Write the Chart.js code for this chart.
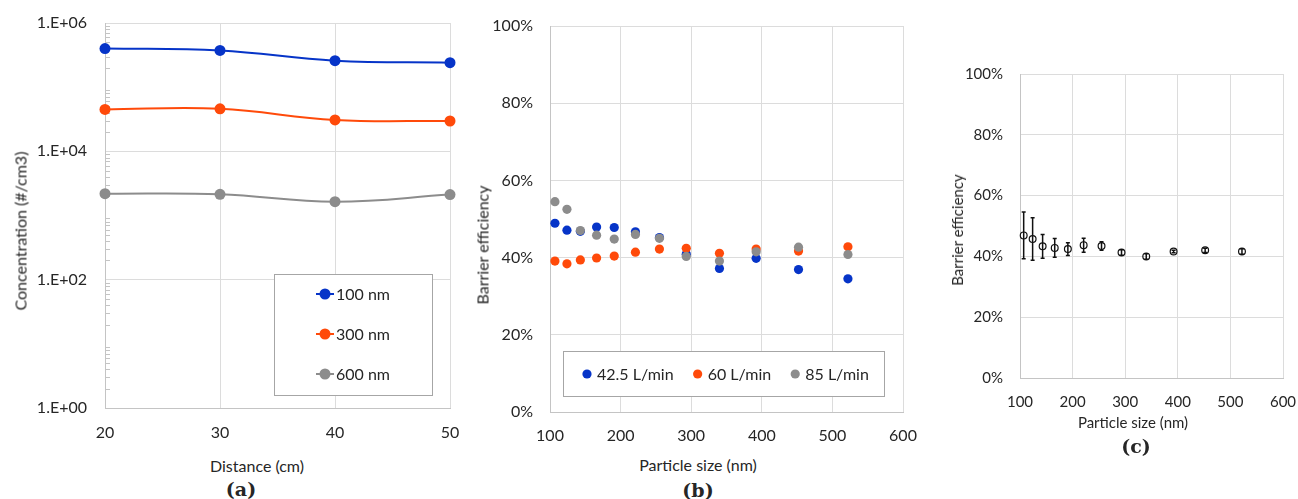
<!DOCTYPE html>
<html>
<head>
<meta charset="utf-8">
<script src="https://cdn.jsdelivr.net/npm/chart.js@4.4.1/dist/chart.umd.min.js"></script>
<style>
    body { margin: 0; background: #fff; width: 1298px; height: 499px; position: relative; overflow: hidden; font-family: Lato, sans-serif; color: #262626; }
    .panel { position: absolute; }
    .lbl { position: absolute; font-size: 16px; white-space: nowrap; transform: translate(-50%, -50%); }
    .lbl.rot { transform: translate(-50%, -50%) rotate(-90deg); }
    .lbl.sm { font-size: 15px; }
    .cap { position: absolute; font: bold 19px "DejaVu Serif", serif; transform: translate(-50%, -50%); }
</style>
</head>
<body>
<div class="panel" style="left:0;top:0;width:470px;height:440px"><canvas id="chartA"></canvas></div>
<div class="panel" style="left:470px;top:0;width:450px;height:450px"><canvas id="chartB"></canvas></div>
<div class="panel" style="left:930px;top:40px;width:368px;height:380px"><canvas id="chartC"></canvas></div>

<div class="lbl rot" style="left:20px;top:231px">Concentration (#/cm3)</div>
<div class="lbl" style="left:257px;top:465px">Distance (cm)</div>
<div class="cap" style="left:241px;top:489px">(a)</div>

<div class="lbl rot" style="left:482px;top:245px">Barrier efficiency</div>
<div class="lbl" style="left:698px;top:464px">Particle size (nm)</div>
<div class="cap" style="left:698px;top:490px">(b)</div>

<div class="lbl rot sm" style="left:957px;top:230px">Barrier efficiency</div>
<div class="lbl sm" style="left:1133px;top:422px">Particle size (nm)</div>
<div class="cap" style="left:1136px;top:446px">(c)</div>

<script>
// (a) concentration vs distance
const distanceCm = [20, 30, 40, 50];
const conc100 = [4.0e5, 3.74e5, 2.59e5, 2.41e5];
const conc300 = [4.5e4, 4.6e4, 3.08e4, 2.97e4];
const conc600 = [2190, 2140, 1640, 2120];
const concTicks = [1, 1e2, 1e4, 1e6];

// (b) barrier efficiency per flow rate (%)
const particleSize = [107, 124, 143, 166, 191, 221, 255, 293, 340, 392, 452, 522];
const eff42 = [48.9, 47.1, 46.8, 47.9, 47.8, 46.7, 45.2, 40.9, 37.2, 39.8, 36.9, 34.5];
const eff60 = [39.1, 38.4, 39.4, 39.9, 40.4, 41.4, 42.2, 42.4, 41.1, 42.2, 41.7, 42.8];
const eff85 = [54.5, 52.5, 47.0, 45.8, 44.8, 46.0, 45.0, 40.3, 39.1, 41.5, 42.7, 40.8];

// (c) mean efficiency with error bars (%)
const effMean = [46.9, 45.7, 43.3, 42.8, 42.4, 43.7, 43.4, 41.3, 40.0, 41.6, 42.0, 41.6];
const effErr = [7.7, 7.0, 3.9, 3.1, 2.1, 2.3, 1.4, 0.9, 0.9, 0.4, 0.7, 0.9];

const blue = '#0634c8', orange = '#ff4a0a', grey = '#8c8c8c';
const gridColor = '#dcdcdc', axisColor = '#c4c4c4', textColor = '#262626';

Chart.defaults.font.family = 'Lato';
Chart.defaults.font.size = 16;
Chart.defaults.color = textColor;
Chart.defaults.animation = false;

// fixed axis sizes, and no extra room for overhanging labels (layout padding handles that)
const fixSize = (w, h) => scale => {
    if (w) scale.width = w;
    if (h) scale.height = h;
    scale.paddingLeft = scale.paddingRight = scale.paddingTop = scale.paddingBottom = 0;
};
const pts = (xs, ys) => xs.map((x, i) => ({ x: x, y: ys[i] }));

// legend drawn inside the plot, white box with grey border
const boxLegend = {
    id: 'boxLegend',
    afterDatasetsDraw(chart, args, o) {
        if (!o || o.w === undefined) return;
        const { ctx, chartArea } = chart;
        const x0 = Math.round(chartArea.left + o.x), y0 = Math.round(chartArea.top + o.y);
        ctx.save();
        ctx.fillStyle = '#fff';
        ctx.fillRect(x0, y0, o.w, o.h);
        ctx.strokeStyle = '#a6a6a6';
        ctx.lineWidth = 1;
        ctx.strokeRect(x0 + 0.5, y0 + 0.5, o.w, o.h);
        ctx.font = o.font;
        ctx.textAlign = 'left';
        ctx.textBaseline = 'middle';
        let cx = x0 + o.first, cy = y0 + o.top;
        chart.data.datasets.forEach(ds => {
            const c = ds.borderColor;
            if (o.line) {
                ctx.strokeStyle = c; ctx.lineWidth = 2;
                ctx.beginPath(); ctx.moveTo(cx - 9, cy); ctx.lineTo(cx + 9, cy); ctx.stroke();
            }
            ctx.fillStyle = c;
            ctx.beginPath(); ctx.arc(cx, cy, o.dot, 0, Math.PI * 2); ctx.fill();
            ctx.fillStyle = textColor;
            ctx.fillText(ds.label, cx + o.gap, cy + 1);
            if (o.vertical) cy += o.step;
            else cx += o.gap + ctx.measureText(ds.label).width + o.step;
        });
        ctx.restore();
    }
};

// small inside tick marks for the log axis
const minorTicks = {
    id: 'minorTicks',
    beforeDatasetsDraw(chart, args, o) {
        if (!o || !o.decades) return;
        const { ctx, chartArea } = chart;
        const ys = chart.scales.y;
        ctx.save();
        ctx.strokeStyle = axisColor;
        ctx.lineWidth = 1;
        ctx.beginPath();
        for (let n = 0; n < o.decades; n++) {
            for (let k = 2; k < 10; k++) {
                const py = Math.round(ys.getPixelForValue(k * Math.pow(10, n))) + 0.5;
                ctx.moveTo(chartArea.left, py);
                ctx.lineTo(chartArea.left + 5, py);
            }
        }
        ctx.stroke();
        ctx.restore();
    }
};

const errorBars = {
    id: 'errorBars',
    afterDatasetsDraw(chart) {
        const { ctx } = chart;
        const ys = chart.scales.y;
        chart.data.datasets.forEach((ds, di) => {
            if (!ds.errorBars) return;
            const meta = chart.getDatasetMeta(di);
            ctx.save();
            ctx.strokeStyle = '#111';
            ctx.lineWidth = 1.5;
            meta.data.forEach((pt, i) => {
                const v = ds.data[i].y, e = ds.errorBars[i];
                const top = ys.getPixelForValue(v + e), bot = ys.getPixelForValue(v - e);
                ctx.beginPath();
                ctx.moveTo(pt.x, top); ctx.lineTo(pt.x, bot);
                ctx.moveTo(pt.x - 2, top); ctx.lineTo(pt.x + 2, top);
                ctx.moveTo(pt.x - 2, bot); ctx.lineTo(pt.x + 2, bot);
                ctx.stroke();
            });
            ctx.restore();
        });
    }
};

function lineSeries(label, ys, color) {
    return {
        label: label, data: pts(distanceCm, ys),
        borderColor: color, backgroundColor: color, borderWidth: 2,
        pointRadius: 5.5, pointBorderWidth: 0, pointHoverRadius: 5.5,
        tension: 0.4, clip: false
    };
}

function dotSeries(label, ys, color, order) {
    return {
        label: label, data: pts(particleSize, ys), order: order,
        borderColor: color, backgroundColor: color,
        pointRadius: 4.6, pointBorderWidth: 0, pointHoverRadius: 4.6, clip: false
    };
}

const pctAxisY = (width, pad, size) => ({
    min: 0, max: 100,
    ticks: { stepSize: 20, padding: pad, font: { size: size }, callback: v => v + '%' },
    grid: { color: gridColor, drawTicks: false },
    border: { color: axisColor },
    afterFit: fixSize(width, 0)
});

const sizeAxisX = (height, pad, size) => ({
    type: 'linear', min: 100, max: 600,
    ticks: { stepSize: 100, padding: pad, font: { size: size } },
    grid: { color: gridColor, drawTicks: false },
    border: { color: axisColor },
    afterFit: fixSize(0, height)
});

function initCharts() {
    new Chart(document.getElementById('chartA'), {
        type: 'line',
        data: { datasets: [
            lineSeries('100 nm', conc100, blue),
            lineSeries('300 nm', conc300, orange),
            lineSeries('600 nm', conc600, grey)
        ] },
        options: {
            responsive: true, maintainAspectRatio: false,
            layout: { padding: { top: 23, right: 20, left: 0, bottom: 0 } },
            plugins: {
                legend: { display: false }, tooltip: { enabled: false },
                boxLegend: { x: 169, y: 251, w: 158, h: 121, vertical: true, first: 51, top: 20, step: 40, gap: 11, dot: 5.5, line: true, font: '16px Lato' },
                minorTicks: { decades: 6 }
            },
            scales: {
                x: {
                    type: 'linear', min: 20, max: 50,
                    ticks: { stepSize: 10, padding: 15 },
                    grid: { color: gridColor, drawTicks: false },
                    border: { color: axisColor },
                    afterFit: fixSize(0, 32)
                },
                y: {
                    type: 'logarithmic', min: 1, max: 1e6,
                    afterBuildTicks: s => { s.ticks = concTicks.map(v => ({ value: v })); },
                    ticks: { padding: 18, callback: v => '1.E+' + String(Math.round(Math.log10(v))).padStart(2, '0') },
                    grid: { color: gridColor, drawTicks: false },
                    border: { color: axisColor },
                    afterFit: fixSize(105, 0)
                }
            }
        },
        plugins: [boxLegend, minorTicks]
    });

    new Chart(document.getElementById('chartB'), {
        type: 'scatter',
        data: { datasets: [
            dotSeries('42.5 L/min', eff42, blue, 3),
            dotSeries('60 L/min', eff60, orange, 2),
            dotSeries('85 L/min', eff85, grey, 1)
        ] },
        options: {
            responsive: true, maintainAspectRatio: false,
            layout: { padding: { top: 26, right: 17, left: 0, bottom: 0 } },
            plugins: {
                legend: { display: false }, tooltip: { enabled: false },
                boxLegend: { x: 13, y: 325, w: 321, h: 45, vertical: false, first: 24, top: 23, step: 24, gap: 10, dot: 4.6, line: false, font: '16px Lato' }
            },
            scales: { x: sizeAxisX(38, 14, 16), y: pctAxisY(80, 17, 16) }
        },
        plugins: [boxLegend]
    });

    new Chart(document.getElementById('chartC'), {
        type: 'scatter',
        data: { datasets: [{
            label: 'Mean', data: pts(particleSize, effMean), errorBars: effErr,
            borderColor: '#111', backgroundColor: 'rgba(0,0,0,0)',
            pointRadius: 3.4, pointBorderWidth: 1.2, pointHoverRadius: 3.4, clip: false
        }] },
        options: {
            responsive: true, maintainAspectRatio: false,
            layout: { padding: { top: 34, right: 15, left: 0, bottom: 0 } },
            plugins: { legend: { display: false }, tooltip: { enabled: false } },
            scales: { x: sizeAxisX(42, 15, 15), y: pctAxisY(90, 17, 15) }
        },
        plugins: [errorBars]
    });
}

window.onload = () => {
    initCharts();
};
</script>
</body>
</html>
